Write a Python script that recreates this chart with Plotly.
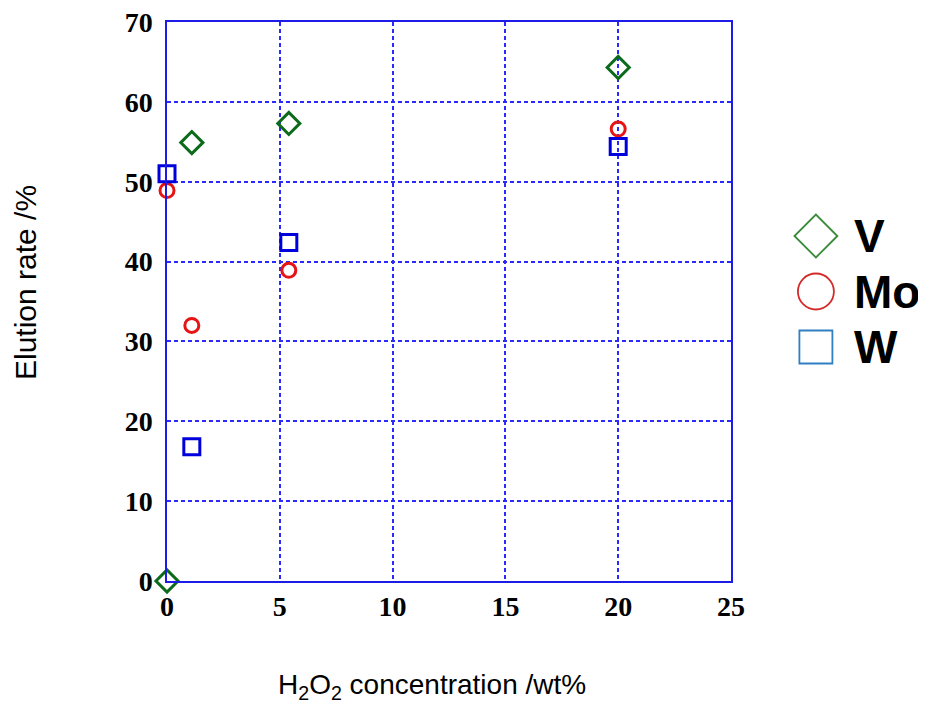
import plotly.graph_objects as go

# ---- data ----
h2o2 = [0, 1.1, 5.4, 20]
v_rate = [0.0, 54.9, 57.3, 64.3]
mo_rate = [48.9, 32.0, 38.9, 56.6]
w_rate = [51.0, 16.8, 42.4, 54.4]

x_ticks = [0, 5, 10, 15, 20, 25]
y_ticks = [0, 10, 20, 30, 40, 50, 60, 70]

legend_labels = ["V", "Mo", "W"]
legend_index = [0, 1, 2]

# ---- styles ----
axis_blue = "#1c1ce6"
grid_blue = "#2a2aff"
data_colors = {"V": "#0b6b1b", "Mo": "#e61414", "W": "#0000dd"}
data_symbols = {"V": "diamond-open", "Mo": "circle-open", "W": "square-open"}
data_sizes = {"V": 17, "Mo": 14, "W": 16}
leg_colors = {"V": "#3a8a3a", "Mo": "#d42a2a", "W": "#2f7fc1"}
leg_sizes = {"V": 33, "Mo": 36, "W": 33}

fig = go.Figure()
series = {"V": v_rate, "Mo": mo_rate, "W": w_rate}
for name, vals in series.items():
    fig.add_trace(go.Scatter(
        x=h2o2, y=vals, mode="markers", name=name, showlegend=False,
        cliponaxis=False,
        marker=dict(symbol=data_symbols[name], size=data_sizes[name],
                    color=data_colors[name],
                    line=dict(color=data_colors[name], width=3)),
        xaxis="x", yaxis="y"))

# custom legend (large symbols)
for name, idx in zip(legend_labels, legend_index):
    fig.add_trace(go.Scatter(
        x=[0], y=[idx], mode="markers", showlegend=False, cliponaxis=False,
        marker=dict(symbol=data_symbols[name], size=leg_sizes[name],
                    color=leg_colors[name],
                    line=dict(color=leg_colors[name], width=1.8)),
        xaxis="x2", yaxis="y2", hoverinfo="skip"))
    fig.add_annotation(x=36, y=idx, xref="x2", yref="y2", text=f"<b>{name}</b>",
                       showarrow=False, xanchor="left", yanchor="middle",
                       font=dict(family="Liberation Sans, Arial", size=46, color="black"))

# axis titles
fig.add_annotation(x=(432 - 167) / 759, y=(581 - 686) / 559, xref="paper", yref="paper",
                   text="H<sub>2</sub>O<sub>2</sub> concentration /wt%", showarrow=False,
                   xanchor="center", yanchor="middle",
                   font=dict(family="Liberation Sans, Arial", size=28, color="black"))
fig.add_annotation(x=(25 - 167) / 759, y=(581 - 283) / 559, xref="paper", yref="paper",
                   text="Elution rate /%", showarrow=False, textangle=-90,
                   xanchor="center", yanchor="middle",
                   font=dict(family="Liberation Sans, Arial", size=30, color="black"))

tick_font = dict(family="Liberation Serif, Times New Roman", size=28, color="black", weight="bold")
main_frac = (731 - 167) / 759

fig.update_layout(
    width=918, height=705,
    margin=dict(l=159, r=0, t=14, b=132),
    paper_bgcolor="white", plot_bgcolor="white",
    xaxis=dict(domain=[0, main_frac], range=[0, 25], tickvals=x_ticks, automargin=False,
               showline=True, linecolor=axis_blue, linewidth=1.5, mirror=True,
               showgrid=True, gridcolor=grid_blue, gridwidth=1.5, griddash="4px,3px",
               zeroline=False, ticks="", tickfont=tick_font, ticklabelstandoff=0,
               ticklabeloverflow="allow"),
    yaxis=dict(range=[0, 70], tickvals=y_ticks, automargin=False,
               showline=True, linecolor=axis_blue, linewidth=1.5, mirror=True,
               showgrid=True, gridcolor=grid_blue, gridwidth=1.5, griddash="4px,3px",
               zeroline=False, ticks="", tickfont=tick_font, ticklabelstandoff=7,
               ticklabeloverflow="allow"),
    xaxis2=dict(domain=[0.76, 1], range=[-72, 110], visible=False, anchor="y2"),
    yaxis2=dict(domain=[0, 1], range=[6.216, -3.856], visible=False, anchor="x2"),
)

fig.write_html("out.html")
